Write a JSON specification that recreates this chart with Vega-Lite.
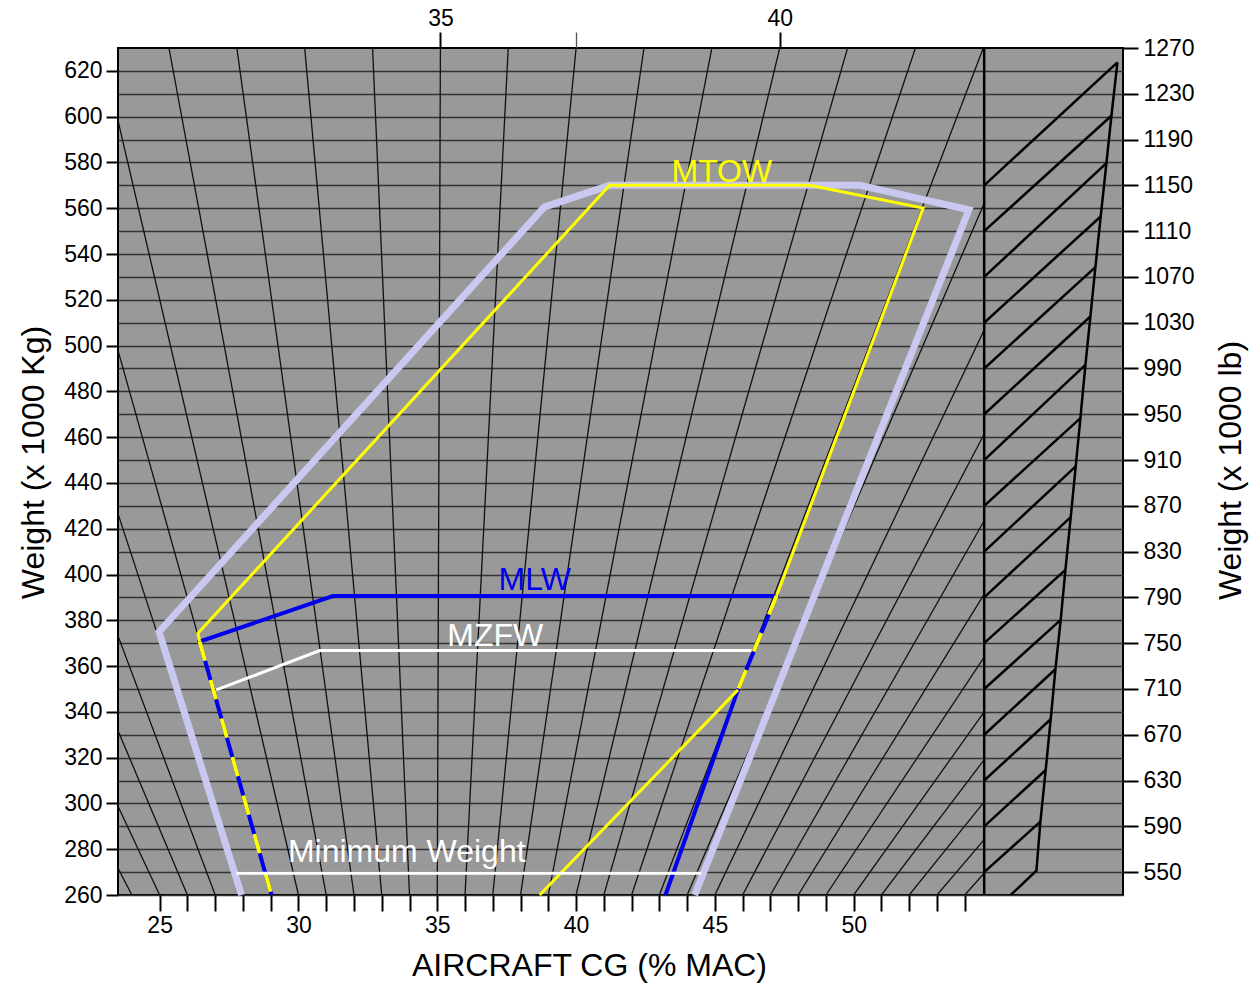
{
  "$schema": "https://vega.github.io/schema/vega-lite/v6.json",
  "width": 1005,
  "height": 847,
  "autosize": {"type": "none"},
  "padding": {"left": 118, "top": 48, "right": 128, "bottom": 88},
  "background": "white",
  "config": {
    "font": "Liberation Sans",
    "view": {"fill": "#999999", "stroke": "#000000", "strokeWidth": 2},
    "axis": {
      "labelColor": "#000000", "titleColor": "#000000", "tickColor": "#000000",
      "labelFontSize": 23, "titleFontSize": 32, "titleFontWeight": "normal",
      "labelFont": "Liberation Sans", "titleFont": "Liberation Sans",
      "domain": false, "tickWidth": 2, "labelOverlap": false, "labelFlush": false
    }
  },
  "datasets": {
    "fan": [
      {"id":24,"x":24,"w":260},{"id":24,"x":8.225,"w":630},
      {"id":25,"x":25,"w":260},{"id":25,"x":10.669,"w":630},
      {"id":26,"x":26,"w":260},{"id":26,"x":13.113,"w":630},
      {"id":27,"x":27,"w":260},{"id":27,"x":15.558,"w":630},
      {"id":28,"x":28,"w":260},{"id":28,"x":18.002,"w":630},
      {"id":29,"x":29,"w":260},{"id":29,"x":20.447,"w":630},
      {"id":30,"x":30,"w":260},{"id":30,"x":22.891,"w":630},
      {"id":31,"x":31,"w":260},{"id":31,"x":25.335,"w":630},
      {"id":32,"x":32,"w":260},{"id":32,"x":27.780,"w":630},
      {"id":33,"x":33,"w":260},{"id":33,"x":30.224,"w":630},
      {"id":34,"x":34,"w":260},{"id":34,"x":32.669,"w":630},
      {"id":35,"x":35,"w":260},{"id":35,"x":35.113,"w":630},
      {"id":36,"x":36,"w":260},{"id":36,"x":37.557,"w":630},
      {"id":37,"x":37,"w":260},{"id":37,"x":40.002,"w":630},
      {"id":38,"x":38,"w":260},{"id":38,"x":42.446,"w":630},
      {"id":39,"x":39,"w":260},{"id":39,"x":44.891,"w":630},
      {"id":40,"x":40,"w":260},{"id":40,"x":47.335,"w":630},
      {"id":41,"x":41,"w":260},{"id":41,"x":49.779,"w":630},
      {"id":42,"x":42,"w":260},{"id":42,"x":52.224,"w":630},
      {"id":43,"x":43,"w":260},{"id":43,"x":54.668,"w":630},
      {"id":44,"x":44,"w":260},{"id":44,"x":54.7,"w":562.2},
      {"id":45,"x":45,"w":260},{"id":45,"x":54.7,"w":506.8},
      {"id":46,"x":46,"w":260},{"id":46,"x":54.7,"w":461.4},
      {"id":47,"x":47,"w":260},{"id":47,"x":54.7,"w":423.5},
      {"id":48,"x":48,"w":260},{"id":48,"x":54.7,"w":391.4},
      {"id":49,"x":49,"w":260},{"id":49,"x":54.7,"w":363.9},
      {"id":50,"x":50,"w":260},{"id":50,"x":54.7,"w":340.0},
      {"id":51,"x":51,"w":260},{"id":51,"x":54.7,"w":319.1},
      {"id":52,"x":52,"w":260},{"id":52,"x":54.7,"w":300.7},
      {"id":53,"x":53,"w":260},{"id":53,"x":54.7,"w":284.2},
      {"id":54,"x":54,"w":260},{"id":54,"x":54.7,"w":269.5}
    ],
    "hatch": [
      {"id":"v","o":0,"x":54.7,"w":260},{"id":"v","o":1,"x":54.7,"w":630},
      {"id":"c","o":0,"x":59.499,"w":623.70},
      {"id":"c","o":1,"x":59.283,"w":600.41},
      {"id":"c","o":2,"x":59.103,"w":579.74},
      {"id":"c","o":3,"x":58.897,"w":556.41},
      {"id":"c","o":4,"x":58.706,"w":534.30},
      {"id":"c","o":5,"x":58.526,"w":512.71},
      {"id":"c","o":6,"x":58.346,"w":491.60},
      {"id":"c","o":7,"x":58.166,"w":468.31},
      {"id":"c","o":8,"x":57.997,"w":447.25},
      {"id":"c","o":9,"x":57.817,"w":425.05},
      {"id":"c","o":10,"x":57.626,"w":402.02},
      {"id":"c","o":11,"x":57.456,"w":380.17},
      {"id":"c","o":12,"x":57.266,"w":358.63},
      {"id":"c","o":13,"x":57.096,"w":336.78},
      {"id":"c","o":14,"x":56.916,"w":314.62},
      {"id":"c","o":15,"x":56.725,"w":292.03},
      {"id":"c","o":16,"x":56.581,"w":270.62},
      {"id":"c","o":17,"x":55.656,"w":260},
      {"id":"h570","o":0,"x":54.7,"w":570},{"id":"h570","o":1,"x":59.499,"w":623.70},
      {"id":"h550","o":0,"x":54.7,"w":550},{"id":"h550","o":1,"x":59.283,"w":600.41},
      {"id":"h530","o":0,"x":54.7,"w":530},{"id":"h530","o":1,"x":59.103,"w":579.74},
      {"id":"h510","o":0,"x":54.7,"w":510},{"id":"h510","o":1,"x":58.897,"w":556.41},
      {"id":"h490","o":0,"x":54.7,"w":490},{"id":"h490","o":1,"x":58.706,"w":534.30},
      {"id":"h470","o":0,"x":54.7,"w":470},{"id":"h470","o":1,"x":58.526,"w":512.71},
      {"id":"h450","o":0,"x":54.7,"w":450},{"id":"h450","o":1,"x":58.346,"w":491.60},
      {"id":"h430","o":0,"x":54.7,"w":430},{"id":"h430","o":1,"x":58.166,"w":468.31},
      {"id":"h410","o":0,"x":54.7,"w":410},{"id":"h410","o":1,"x":57.997,"w":447.25},
      {"id":"h390","o":0,"x":54.7,"w":390},{"id":"h390","o":1,"x":57.817,"w":425.05},
      {"id":"h370","o":0,"x":54.7,"w":370},{"id":"h370","o":1,"x":57.626,"w":402.02},
      {"id":"h350","o":0,"x":54.7,"w":350},{"id":"h350","o":1,"x":57.456,"w":380.17},
      {"id":"h330","o":0,"x":54.7,"w":330},{"id":"h330","o":1,"x":57.266,"w":358.63},
      {"id":"h310","o":0,"x":54.7,"w":310},{"id":"h310","o":1,"x":57.096,"w":336.78},
      {"id":"h290","o":0,"x":54.7,"w":290},{"id":"h290","o":1,"x":56.916,"w":314.62},
      {"id":"h270","o":0,"x":54.7,"w":270},{"id":"h270","o":1,"x":56.725,"w":292.03}
    ],
    "envelope": [
      {"o":0,"x":27.95,"w":260},
      {"o":1,"x":24.98,"w":375},
      {"o":2,"x":38.85,"w":560.5},
      {"o":3,"x":41.21,"w":570},
      {"o":4,"x":50.22,"w":570},
      {"o":5,"x":54.15,"w":559.3},
      {"o":6,"x":44.27,"w":260}
    ],
    "mlw": [
      {"id":"a","o":0,"x":29.03,"w":260},
      {"id":"a","o":1,"x":26.44,"w":370.7},
      {"id":"a","o":2,"x":31.24,"w":390.6},
      {"id":"a","o":3,"x":47.22,"w":390.6},
      {"id":"a","o":4,"x":45.83,"w":349.6},
      {"id":"a","o":5,"x":43.22,"w":260}
    ],
    "mtow": [
      {"id":"a","o":0,"x":26.44,"w":370.7},
      {"id":"a","o":1,"x":26.38,"w":374.4},
      {"id":"a","o":2,"x":41.21,"w":570},
      {"id":"a","o":3,"x":48.42,"w":570},
      {"id":"a","o":4,"x":52.50,"w":560.1},
      {"id":"a","o":5,"x":47.22,"w":390.6},
      {"id":"b","o":0,"x":45.83,"w":349.6},
      {"id":"b","o":1,"x":38.69,"w":260}
    ],
    "shared": [
      {"id":"l","o":0,"x":26.44,"w":370.7},
      {"id":"l","o":1,"x":29.03,"w":260},
      {"id":"r","o":0,"x":47.22,"w":390.6},
      {"id":"r","o":1,"x":45.83,"w":349.6}
    ],
    "white": [
      {"id":"mzfw","o":0,"x":27.04,"w":349.6},
      {"id":"mzfw","o":1,"x":30.77,"w":366.8},
      {"id":"mzfw","o":2,"x":46.32,"w":366.8},
      {"id":"min","o":0,"x":27.76,"w":269.5},
      {"id":"min","o":1,"x":44.51,"w":269.5}
    ],
    "labels": [
      {"label":"MTOW","x":45.25,"w":571.6},
      {"label":"MLW","x":38.51,"w":393.3},
      {"label":"MZFW","x":37.09,"w":368.8},
      {"label":"Minimum Weight","x":33.90,"w":274.6}
    ]
  },
  "resolve": {"scale": {"x": "independent", "y": "independent"}, "axis": {"x": "independent", "y": "independent"}},
  "layer": [
    {
      "encoding": {
        "x": {
          "field": "x", "type": "quantitative",
          "scale": {"domain": [23.5, 59.7], "nice": false, "zero": false},
          "axis": {
            "orient": "bottom",
            "values": [25,26,27,28,29,30,31,32,33,34,35,36,37,38,39,40,41,42,43,44,45,46,47,48,49,50,51,52,53,54],
            "labelExpr": "datum.value % 5 === 0 ? datum.label : ''",
            "tickSize": 16, "labelPadding": 3, "grid": false,
            "title": "AIRCRAFT CG (% MAC)",
            "titleX": 471, "titleY": 80, "titleAlign": "center", "titleBaseline": "alphabetic"
          }
        },
        "y": {
          "field": "w", "type": "quantitative",
          "scale": {"domain": [260, 630], "nice": false, "zero": false},
          "axis": {
            "orient": "left",
            "values": [260,270,280,290,300,310,320,330,340,350,360,370,380,390,400,410,420,430,440,450,460,470,480,490,500,510,520,530,540,550,560,570,580,590,600,610,620],
            "labelExpr": "datum.value % 20 === 0 ? datum.label : ''",
            "tickOpacity": {"condition": {"test": "datum.value % 20 === 0", "value": 1}, "value": 0},
            "tickSize": 12, "labelPadding": 4,
            "grid": true, "gridColor": "#333333", "gridWidth": 1.6,
            "title": "Weight (x 1000 Kg)",
            "titleAngle": 270, "titleX": -85, "titleY": 414, "titleAlign": "center", "titleBaseline": "middle"
          }
        }
      },
      "layer": [
        {
          "data": {"name": "fan"},
          "mark": {"type": "line", "color": "#111111", "strokeWidth": 1.3, "clip": true},
          "encoding": {"detail": {"field": "id"}}
        },
        {
          "data": {"name": "hatch"},
          "mark": {"type": "line", "color": "#000000", "strokeWidth": 2.5, "clip": true},
          "encoding": {"detail": {"field": "id"}, "order": {"field": "o", "type": "quantitative"}}
        },
        {
          "data": {"name": "envelope"},
          "mark": {"type": "line", "color": "#c8c8f0", "strokeWidth": 7},
          "encoding": {"order": {"field": "o", "type": "quantitative"}}
        },
        {
          "data": {"name": "mlw"},
          "mark": {"type": "line", "color": "#0000ee", "strokeWidth": 4},
          "encoding": {"detail": {"field": "id"}, "order": {"field": "o", "type": "quantitative"}}
        },
        {
          "data": {"name": "mtow"},
          "mark": {"type": "line", "color": "#ffff00", "strokeWidth": 3},
          "encoding": {"detail": {"field": "id"}, "order": {"field": "o", "type": "quantitative"}}
        },
        {
          "data": {"name": "shared"},
          "mark": {"type": "line", "color": "#ffff00", "strokeWidth": 4, "strokeDash": [20, 20], "strokeCap": "butt"},
          "encoding": {"detail": {"field": "id"}, "order": {"field": "o", "type": "quantitative"}}
        },
        {
          "data": {"name": "white"},
          "mark": {"type": "line", "color": "#ffffff", "strokeWidth": 3},
          "encoding": {"detail": {"field": "id"}, "order": {"field": "o", "type": "quantitative"}}
        },
        {
          "data": {"name": "labels"},
          "mark": {"type": "text", "fontSize": 32, "font": "Liberation Sans", "align": "center", "baseline": "alphabetic"},
          "encoding": {
            "text": {"field": "label"},
            "color": {
              "field": "label", "type": "nominal",
              "scale": {"domain": ["MTOW", "MLW", "MZFW", "Minimum Weight"], "range": ["#ffff00", "#0000ee", "#ffffff", "#ffffff"]},
              "legend": null
            }
          }
        }
      ]
    },
    {
      "data": {"values": [{"t": 35}]},
      "mark": {"type": "rule", "opacity": 0},
      "encoding": {
        "x": {
          "field": "t", "type": "quantitative",
          "scale": {"domain": [30.249, 45.058], "nice": false, "zero": false},
          "axis": {
            "orient": "top", "values": [35, 37, 40],
            "labelExpr": "datum.value === 37 ? '' : datum.label",
            "tickSize": 16, "labelPadding": 2, "grid": false, "title": null,
            "tickColor": {"condition": {"test": "datum.value === 37", "value": "#555555"}, "value": "#000000"},
            "tickWidth": {"condition": {"test": "datum.value === 37", "value": 1.3}, "value": 2}
          }
        }
      }
    },
    {
      "data": {"values": [{"lb": 550}]},
      "mark": {"type": "rule", "opacity": 0},
      "encoding": {
        "y": {
          "field": "lb", "type": "quantitative",
          "scale": {"domain": [530, 1270], "nice": false, "zero": false},
          "axis": {
            "orient": "right", "format": "d",
            "values": [550,590,630,670,710,750,790,830,870,910,950,990,1030,1070,1110,1150,1190,1230,1270],
            "tickSize": 15, "labelPadding": 5, "grid": false,
            "title": "Weight (x 1000 lb)",
            "titleAngle": 270, "titleX": 107, "titleY": 422, "titleAlign": "center", "titleBaseline": "middle"
          }
        }
      }
    }
  ]
}
